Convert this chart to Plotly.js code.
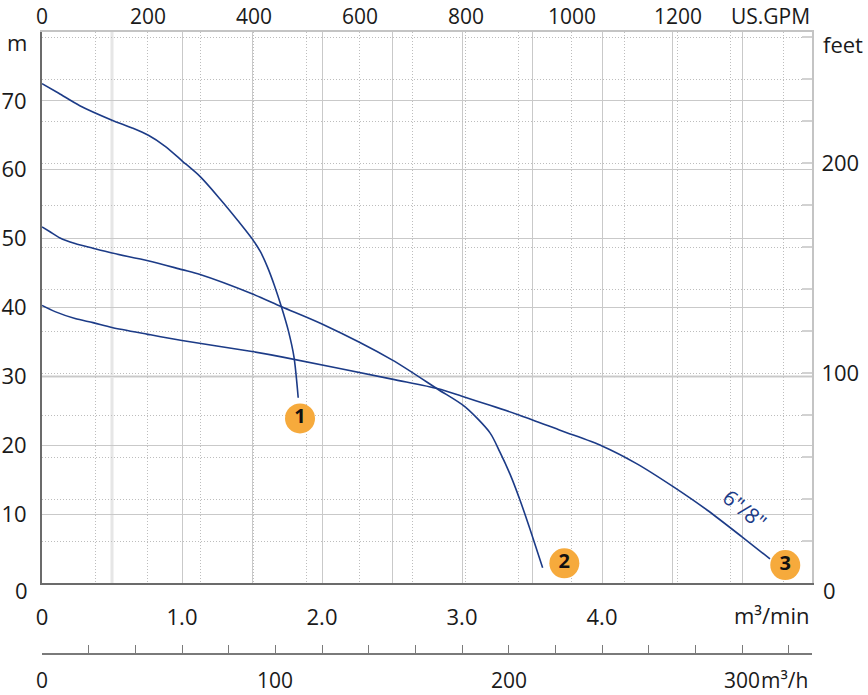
<!DOCTYPE html>
<html>
<head>
<meta charset="utf-8">
<script src="https://cdn.plot.ly/plotly-3.0.1.min.js"></script>
<style>html,body{margin:0;padding:0;background:#fff;}#chart{width:868px;height:695px;}</style>
</head>
<body>
<div id="chart"></div>
<script>
// Flow in m³/min, head in m
const flow1 = [0, 0.12, 0.27, 0.5, 0.64, 0.76, 0.88, 1.0, 1.13, 1.27, 1.4, 1.5, 1.56, 1.61, 1.66, 1.71, 1.76, 1.80, 1.83];
const head1 = [72.5, 71.1, 69.3, 67.2, 66.1, 65.0, 63.4, 61.3, 59.0, 55.8, 52.6, 50.0, 48.1, 45.9, 43.2, 40.1, 36.6, 32.8, 26.9];

const flow2 = [0, 0.057, 0.129, 0.236, 0.364, 0.5, 0.757, 1.0, 1.129, 1.5, 1.712, 2.0, 2.5, 2.83, 3.02, 3.2, 3.271, 3.343, 3.414, 3.486, 3.576];
const head2 = [51.7, 51.0, 50.1, 49.3, 48.6, 47.9, 46.8, 45.5, 44.8, 42.0, 40.1, 37.6, 32.4, 28.1, 25.6, 21.8, 19.0, 15.8, 12.05, 7.8, 2.2];

const flow3 = [0, 0.093, 0.236, 0.364, 0.5, 0.757, 1.0, 1.5, 1.72, 2.5, 2.83, 3.0, 3.2, 3.42, 3.71, 4.0, 4.25, 4.5, 4.75, 5.0, 5.2];
const head3 = [40.3, 39.4, 38.4, 37.8, 37.1, 36.1, 35.2, 33.6, 32.8, 29.6, 28.2, 27.1, 25.8, 24.3, 22.1, 19.9, 17.3, 14.1, 10.6, 6.7, 3.5];

const curveLabels = ['1', '2', '3'];
const labelFlow = [1.843, 3.731, 5.309];
const labelHead = [23.9, 2.86, 2.61];

const modelLabel = '6"/8"';

const minTicks = [0, 1, 1.5, 2, 2.5, 3, 3.5, 4, 4.5, 5, 5.5];
const minText = ['0', '1.0', '', '2.0', '', '3.0', '', '4.0', '', '', ''];
const gpmGrid = [0, 100, 200, 300, 400, 500, 600, 700, 800, 900, 1000, 1100, 1200, 1300, 1400];
const gpmLabels = [0, 200, 400, 600, 800, 1000, 1200];
const mTicks = [0, 10, 20, 30, 40, 50, 60, 70, 80];
const mText = ['', '10', '20', '30', '40', '50', '60', '70', ''];
const feetTicks = [0, 20, 40, 60, 80, 100, 120, 140, 160, 180, 200, 220, 240, 260];
const feetText = ['', '', '', '', '', '100', '', '', '', '', '200', '', '', ''];
const m3hTicks = [0, 20, 40, 60, 80, 100, 120, 140, 160, 180, 200, 220, 240, 260, 280, 300, 320];
const m3hLabels = [0, 100, 200, 300];

const XMAX = 5.5, YMAX = 80;
const GPM_PER_M3MIN = 264.172;
const FT_PER_M = 1 / 0.3048;

const NAVY = '#1c3b87';
const GRID = '#c9c9c9';
const DOTGRID = '#bdbdbd';
const FONT = 'Open Sans, Noto Sans, sans-serif';
const FS = 22;
const domLow = 77 / 628;

function curve(x, y) {
  return {x: x, y: y, xaxis: 'x', yaxis: 'y', mode: 'lines', type: 'scatter',
    line: {color: NAVY, width: 1.6, shape: 'spline', smoothing: 0.8},
    hoverinfo: 'skip', showlegend: false};
}

const traces = [
  curve(flow1, head1), curve(flow2, head2), curve(flow3, head3),
  {x: labelFlow, y: labelHead, text: curveLabels, mode: 'markers+text', type: 'scatter',
    xaxis: 'x', yaxis: 'y', cliponaxis: false,
    marker: {size: 30, color: '#f6aa3c', line: {width: 0}},
    textposition: 'middle center',
    textfont: {family: FONT, size: 20, color: '#111', weight: 700},
    hoverinfo: 'skip', showlegend: false},
  {x: [0, XMAX * GPM_PER_M3MIN], y: [null, null], xaxis: 'x2', yaxis: 'y2', mode: 'markers', type: 'scatter',
    marker: {opacity: 0}, hoverinfo: 'skip', showlegend: false},
  {x: [0, 330], y: [null, null], xaxis: 'x3', yaxis: 'y', mode: 'markers', type: 'scatter',
    marker: {opacity: 0}, hoverinfo: 'skip', showlegend: false}
];

const annotations = [
  {text: 'm', xref: 'paper', yref: 'paper', x: 0, y: 1, xanchor: 'right', yanchor: 'middle',
    xshift: -13, yshift: -10, showarrow: false},
  {text: 'feet', xref: 'paper', yref: 'paper', x: 1, y: 1, xanchor: 'left', yanchor: 'middle',
    xshift: 9, yshift: -12, showarrow: false},
  {text: 'US.GPM', xref: 'paper', yref: 'paper', x: 1, y: 1, xanchor: 'right', yanchor: 'top',
    xshift: 0, yshift: 32, showarrow: false, font: {size: 21}},
  {text: 'm³/min', xref: 'paper', yref: 'y domain', x: 1, y: 0, xanchor: 'right', yanchor: 'middle',
    xshift: 0, yshift: -32, showarrow: false},
  {text: '0', xref: 'paper', yref: 'y domain', x: 0, y: 0, xanchor: 'right', yanchor: 'middle',
    xshift: -12, yshift: -7, showarrow: false},
  {text: '0', xref: 'paper', yref: 'y domain', x: 1, y: 0, xanchor: 'left', yanchor: 'middle',
    xshift: 9, yshift: -7, showarrow: false},
  {text: 'm³/h', xref: 'x3', yref: 'paper', x: 300, y: 0, xanchor: 'left', yanchor: 'bottom',
    xshift: 18, yshift: -35, borderpad: 0, showarrow: false, font: {size: 21}},
  {text: modelLabel, xref: 'x', yref: 'y', x: 5.02, y: 10.8, textangle: 39,
    font: {color: NAVY, size: 21}, showarrow: false}
];
gpmLabels.forEach(function (v) {
  annotations.push({text: String(v), xref: 'x2', yref: 'paper', x: v, y: 1,
    xanchor: 'center', yanchor: 'top', yshift: 32, showarrow: false, font: {size: 21}});
});
m3hLabels.forEach(function (v) {
  annotations.push({text: String(v), xref: 'x3', yref: 'paper', x: v, y: 0,
    xanchor: 'center', yanchor: 'bottom', yshift: -35, borderpad: 0, showarrow: false, font: {size: 21}});
});

const layout = {
  width: 868, height: 695,
  margin: {l: 42, r: 56, t: 32, b: 35, pad: 0},
  paper_bgcolor: '#fff', plot_bgcolor: '#fff',
  font: {family: FONT, size: FS, color: '#1a1a1a'},
  showlegend: false,
  xaxis: {
    domain: [0, 1], range: [0, XMAX], anchor: 'y', side: 'bottom',
    tickmode: 'array', tickvals: minTicks, ticktext: minText,
    showgrid: true, gridcolor: GRID, gridwidth: 1,
    showline: true, linecolor: '#6b6b6b', linewidth: 2,
    ticks: '', zeroline: false, ticklabelstandoff: 14, fixedrange: true
  },
  xaxis2: {
    overlaying: 'x', anchor: 'y', side: 'top', range: [0, XMAX * GPM_PER_M3MIN],
    tickmode: 'array', tickvals: gpmGrid, showticklabels: false,
    showgrid: true, gridcolor: DOTGRID, griddash: '1px,2px', gridwidth: 1,
    showline: true, linecolor: '#c4c4c4', linewidth: 2,
    ticks: '', zeroline: false, fixedrange: true
  },
  xaxis3: {
    overlaying: 'x', anchor: 'free', position: 7 / 628, side: 'bottom', range: [0, XMAX * 60],
    tickmode: 'array', tickvals: m3hTicks, showticklabels: false,
    showgrid: false, showline: true, linecolor: '#7a7a7a', linewidth: 1.5,
    ticks: 'inside', ticklen: 8, tickwidth: 1, tickcolor: '#7a7a7a',
    zeroline: false, fixedrange: true
  },
  yaxis: {
    domain: [domLow, 1], range: [0, YMAX], anchor: 'x',
    tickmode: 'array', tickvals: mTicks, ticktext: mText,
    showgrid: true, gridcolor: GRID, gridwidth: 1,
    showline: true, linecolor: '#6b6b6b', linewidth: 2,
    ticks: '', zeroline: false, ticklabelstandoff: 9, fixedrange: true
  },
  yaxis2: {
    overlaying: 'y', anchor: 'x', side: 'right', range: [0, YMAX * FT_PER_M],
    tickmode: 'array', tickvals: feetTicks, ticktext: feetText,
    showgrid: true, gridcolor: DOTGRID, griddash: '1px,2px', gridwidth: 1,
    ticks: 'inside', ticklen: 10, tickwidth: 2, tickcolor: '#d2d2d2',
    showline: true, linecolor: '#c4c4c4', linewidth: 2,
    zeroline: false, ticklabelstandoff: 3, fixedrange: true
  },
  shapes: [
    {type: 'line', xref: 'x', yref: 'y domain', x0: 0.5, x1: 0.5, y0: 0, y1: 1,
      line: {color: '#e6e6e6', width: 3}, layer: 'below'},
    {type: 'line', xref: 'x domain', yref: 'y', x0: 0, x1: 1, y0: 30, y1: 30,
      line: {color: '#e6e6e6', width: 3}, layer: 'below'}
  ],
  annotations: annotations
};

Plotly.newPlot('chart', traces, layout, {staticPlot: true, displayModeBar: false});
</script>
</body>
</html>
